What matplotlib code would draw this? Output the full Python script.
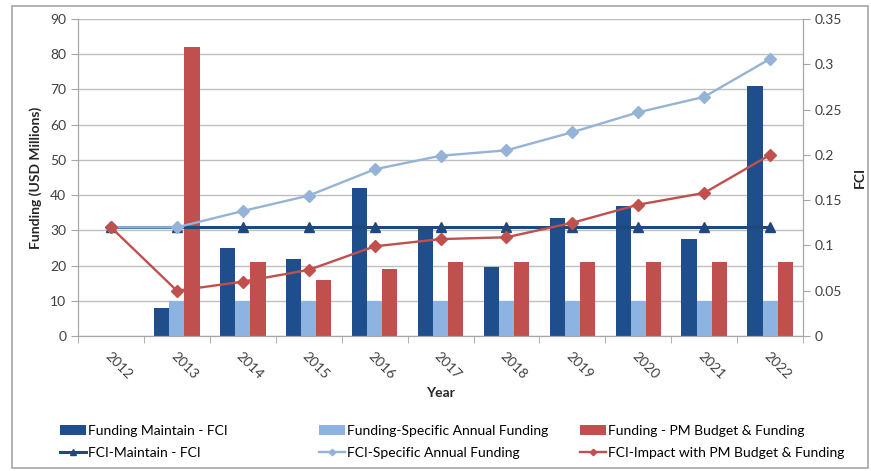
import matplotlib
matplotlib.use("Agg")
import matplotlib.pyplot as plt
import matplotlib.patches as patches
import numpy as np

plt.rcParams['font.family'] = ['Lato', 'DejaVu Sans']

years = ['2012', '2013', '2014', '2015', '2016', '2017', '2018', '2019', '2020', '2021', '2022']

# funding bars (USD millions)
funding_maintain = [0, 8, 25, 22, 42, 31, 19.5, 33.5, 37, 27.5, 71]
funding_specific = [0, 10, 10, 10, 10, 10, 10, 10, 10, 10, 10]
funding_pm = [0, 82, 21, 16, 19, 21, 21, 21, 21, 21, 21]

# FCI lines
fci_maintain = [0.12, 0.12, 0.12, 0.12, 0.12, 0.12, 0.12, 0.12, 0.12, 0.12, 0.12]
fci_specific = [0.12, 0.12, 0.138, 0.155, 0.184, 0.199, 0.205, 0.225, 0.247, 0.264, 0.306]
fci_pm = [0.12, 0.05, 0.06, 0.073, 0.099, 0.107, 0.109, 0.125, 0.145, 0.158, 0.2]

c_dark = '#1F4E8C'
c_light = '#8DB3E2'
c_red = '#C0504D'
c_dark_line = '#1F497D'
c_light_line = '#95B3D7'
grid_c = '#BFBFBF'
text_c = '#404040'

fig = plt.figure(figsize=(8.71, 4.71), dpi=100)
fig.patches.append(patches.Rectangle((0.014, 0.006), 0.982, 0.982, transform=fig.transFigure,
                                     fill=False, edgecolor='#A6A6A6', linewidth=1.2))
ax = fig.add_axes([0.0896, 0.2866, 0.8324, 0.6731])
ax2 = ax.twinx()

x = np.arange(len(years))
w = 0.23
b1 = ax.bar(x - w, funding_maintain, w, color=c_dark, label='Funding Maintain - FCI', zorder=2)
b2 = ax.bar(x, funding_specific, w, color=c_light, label='Funding-Specific Annual Funding', zorder=2)
b3 = ax.bar(x + w, funding_pm, w, color=c_red, label='Funding - PM Budget & Funding', zorder=2)

l1, = ax2.plot(x, fci_maintain, color=c_dark_line, lw=2.2, marker='^', ms=7, label='FCI-Maintain - FCI')
l2, = ax2.plot(x, fci_specific, color=c_light_line, lw=1.7, marker='D', ms=6, label='FCI-Specific Annual Funding')
l3, = ax2.plot(x, fci_pm, color=c_red, lw=1.7, marker='D', ms=6, label='FCI-Impact with PM Budget & Funding')

ax.set_xlim(-0.5, len(years) - 0.5)
ax.set_ylim(0, 90)
ax.set_yticks(np.arange(0, 91, 10))
ax2.set_ylim(0, 0.35)
ax2.set_yticks([0, 0.05, 0.1, 0.15, 0.2, 0.25, 0.3, 0.35])
ax2.set_yticklabels(['0', '0.05', '0.1', '0.15', '0.2', '0.25', '0.3', '0.35'])

ax.yaxis.grid(True, color=grid_c, lw=1, zorder=0)
ax.set_axisbelow(True)

ax.set_xticks(x)
ax.set_xticklabels(years, rotation=-45, ha='left', rotation_mode='anchor')
ax.set_xticks(np.arange(-0.5, len(years), 1), minor=True)
ax.tick_params(axis='x', which='major', length=0, pad=10, labelsize=10, colors=text_c)
ax.tick_params(axis='x', which='minor', length=5, color='#A6A6A6', direction='out')
ax.tick_params(axis='y', length=5, color='#A6A6A6', labelsize=10, labelcolor=text_c)
ax2.tick_params(axis='y', length=5, color='#A6A6A6', labelsize=10, labelcolor=text_c)

for a in (ax, ax2):
    a.spines['top'].set_visible(False)
    for s in ('left', 'right', 'bottom'):
        a.spines[s].set_color('#A6A6A6')

ax.set_xlabel('Year', fontsize=10, fontweight='bold', color='#262626', labelpad=4)
ax.set_ylabel('Funding (USD Millions)', fontsize=10, fontweight='bold', color='#262626', labelpad=6)
ax2.set_ylabel('FCI', fontsize=10, fontweight='bold', color='#262626', labelpad=8)

# legend: three columns, bar on top and its FCI line below
for col_x, pair in zip([60 / 871, 319 / 871, 580 / 871], [(b1, l1), (b2, l2), (b3, l3)]):
    fig.legend(handles=list(pair), labels=[h.get_label() for h in pair],
               loc='upper left', bbox_to_anchor=(col_x, 0.098), borderaxespad=0, borderpad=0,
               frameon=False, fontsize=10, handlelength=1.9, handletextpad=0.15,
               labelspacing=0.72, markerscale=0.55)

fig.savefig('out.png', dpi=100)
